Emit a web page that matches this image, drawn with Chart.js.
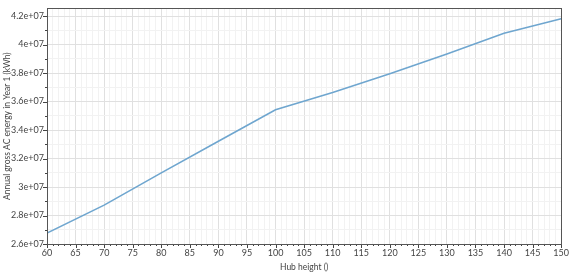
<!DOCTYPE html>
<html lang="en">
<head>
    <meta charset="UTF-8">
    <script src="https://cdn.jsdelivr.net/npm/chart.js"></script>
    <title>Hub height sweep</title>
    <style>
        html, body { margin: 0; padding: 0; background: #fff; }
        .chart-container { width: 573px; height: 275px; position: relative; }
    </style>
</head>
<body>
<div class="chart-container">
    <canvas id="myChart"></canvas>
</div>
<script>
// hub height (x) and annual gross AC energy (y)
var hubHeights = [60, 70, 80, 90, 100, 110, 120, 130, 140, 150];
var energy = [26.77e6, 28.73e6, 30.99e6, 33.21e6, 35.43e6, 36.64e6, 37.96e6, 39.34e6, 40.80e6, 41.82e6];
var xTickLabels = [60, 65, 70, 75, 80, 85, 90, 95, 100, 105, 110, 115, 120, 125, 130, 135, 140, 145, 150];
var yTickLabels = ['2.6e+07', '2.8e+07', '3e+07', '3.2e+07', '3.4e+07', '3.6e+07', '3.8e+07', '4e+07', '4.2e+07'];
var yMin = 26e6, yMax = 42.54e6;
var xMin = 60, xMax = 150;

var axisFont = { family: 'Lato', size: 9 };
var titleFont = { family: 'Lato', size: 8.5 };
var textColor = '#444';

function isMajorX(v) { return v % 5 === 0; }
function isMajorY(v) { return Math.round(v) % 2000000 === 0; }

// major + minor tick positions (minor: every 1 m / every 1e6 kWh)
function xTickList() {
    var t = [];
    for (var v = xMin; v <= xMax; v++) t.push({ value: v });
    return t;
}
function yTickList() {
    var t = [];
    for (var k = 0; yMin + k * 1e6 <= yMax; k++) t.push({ value: yMin + k * 1e6 });
    return t;
}

// tick marks + top/right frame
var frame = {
    id: 'frame',
    afterDraw: function (chart) {
        var c = chart.ctx, a = chart.chartArea;
        var xs = chart.scales.x, ys = chart.scales.y;
        c.save();
        c.strokeStyle = '#444';
        c.lineWidth = 1;
        c.beginPath();
        xs.ticks.forEach(function (t) {
            var px = Math.round(xs.getPixelForValue(t.value)) + 0.5;
            var len = isMajorX(t.value) ? 4 : 2;
            c.moveTo(px, a.bottom);
            c.lineTo(px, a.bottom + len);
        });
        ys.ticks.forEach(function (t) {
            var py = Math.round(ys.getPixelForValue(t.value)) + 0.5;
            var len = isMajorY(t.value) ? 4 : 2;
            c.moveTo(a.left, py);
            c.lineTo(a.left - len, py);
        });
        c.stroke();
        c.strokeStyle = '#555';
        c.strokeRect(Math.round(a.left) + 0.5, Math.round(a.top) + 0.5,
            Math.round(a.right - a.left), Math.round(a.bottom - a.top));
        c.restore();
    }
};

var points = [];
for (var i = 0; i < hubHeights.length; i++) {
    points.push({ x: hubHeights[i], y: energy[i] });
}

var ctx = document.getElementById('myChart').getContext('2d');
var myChart = new Chart(ctx, {
    type: 'line',
    data: {
        datasets: [{
            data: points,
            borderColor: '#6fa6cf',
            borderWidth: 1.6,
            pointRadius: 0,
            tension: 0,
            fill: false
        }]
    },
    options: {
        animation: false,
        responsive: true,
        maintainAspectRatio: false,
        layout: { padding: { top: 1, right: 8, left: 0, bottom: 0 } },
        plugins: { legend: { display: false }, tooltip: { enabled: false } },
        scales: {
            x: {
                type: 'linear',
                min: xMin,
                max: xMax,
                afterBuildTicks: function (scale) { scale.ticks = xTickList(); },
                afterFit: function (scale) { scale.height = 31; },
                border: { display: true, color: '#444' },
                grid: {
                    drawTicks: false,
                    color: function (c) { return isMajorX(c.tick.value) ? '#e0e0e0' : '#f2f2f2'; }
                },
                ticks: {
                    autoSkip: false,
                    maxRotation: 0,
                    padding: 4,
                    color: textColor,
                    font: axisFont,
                    callback: function (v) {
                        var k = xTickLabels.indexOf(v);
                        return k < 0 ? '' : String(xTickLabels[k]);
                    }
                },
                title: {
                    display: true,
                    text: 'Hub height ()',
                    color: textColor,
                    font: titleFont,
                    padding: { top: 0, bottom: 3 }
                }
            },
            y: {
                min: yMin,
                max: yMax,
                afterBuildTicks: function (scale) { scale.ticks = yTickList(); },
                afterFit: function (scale) { scale.width = 47; },
                border: { display: true, color: '#444' },
                grid: {
                    drawTicks: false,
                    color: function (c) { return isMajorY(c.tick.value) ? '#e0e0e0' : '#f2f2f2'; }
                },
                ticks: {
                    autoSkip: false,
                    padding: 3,
                    color: textColor,
                    font: axisFont,
                    callback: function (v) {
                        if (!isMajorY(v)) return '';
                        return yTickLabels[Math.round((v - yMin) / 2e6)];
                    }
                },
                title: {
                    display: true,
                    text: 'Annual gross AC energy in Year 1 (kWh)',
                    color: textColor,
                    font: titleFont,
                    padding: { top: 2, bottom: 0 }
                }
            }
        }
    },
    plugins: [frame]
});
</script>
</body>
</html>
